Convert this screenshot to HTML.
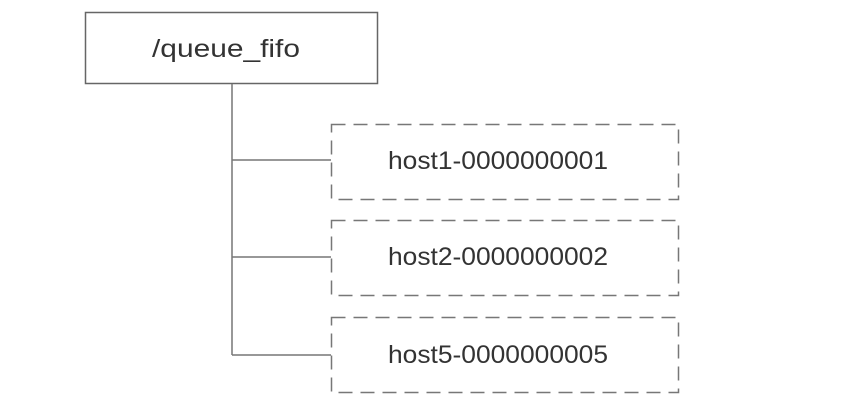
<!DOCTYPE html>
<html><head><style>body{margin:0;background:#fff}</style></head><body>
<svg width="850" height="404" xmlns="http://www.w3.org/2000/svg" font-family="Liberation Sans, sans-serif" font-size="25" fill="#333">
<rect x="85.5" y="12.5" width="292" height="71" fill="#fff" stroke="#666" stroke-width="1.5"/>
<text x="152" y="57" textLength="148" lengthAdjust="spacingAndGlyphs">/queue_fifo</text>
<path d="M232 84V355M232 160H331M232 257H331M232 355H331" stroke="#777" stroke-width="1.5" fill="none"/>
<g fill="none" stroke="#777" stroke-width="1.5" stroke-dasharray="14,8">
<rect x="331.5" y="124.5" width="347" height="75"/>
<rect x="331.5" y="220.5" width="347" height="75"/>
<rect x="331.5" y="317.5" width="347" height="75"/>
</g>
<text x="388" y="169" textLength="220" lengthAdjust="spacingAndGlyphs">host1-0000000001</text>
<text x="388" y="265" textLength="220" lengthAdjust="spacingAndGlyphs">host2-0000000002</text>
<text x="388" y="363" textLength="220" lengthAdjust="spacingAndGlyphs">host5-0000000005</text>
</svg>
</body></html>
